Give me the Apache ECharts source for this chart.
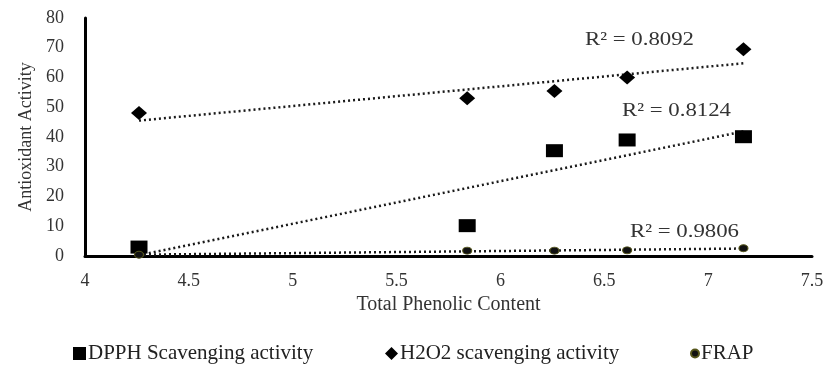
<!DOCTYPE html>
<html><head><meta charset="utf-8">
<script src="https://cdn.jsdelivr.net/npm/echarts@6/dist/echarts.min.js"></script>
<style>html,body{margin:0;padding:0;background:#fff}#c{width:827px;height:365px}</style>
</head><body><div id="c"></div>
<script>
var phenolic = [4.26, 5.84, 6.26, 6.61, 7.17];
var dpph = [3, 10.2, 35.4, 39, 40.1];
var h2o2 = [48.1, 53, 55.5, 60, 69.5];
var frap = [0.4, 1.8, 1.8, 1.9, 2.6];
var r2Labels = ['R² = 0.8092', 'R² = 0.8124', 'R² = 0.9806'];
var seriesNames = ['DPPH Scavenging activity', 'H2O2 scavenging activity', 'FRAP'];

function fit(xs, ys) {
  var n = xs.length, mx = 0, my = 0;
  for (var i = 0; i < n; i++) { mx += xs[i]; my += ys[i]; }
  mx /= n; my /= n;
  var sxy = 0, sxx = 0;
  for (var i = 0; i < n; i++) { sxy += (xs[i]-mx)*(ys[i]-my); sxx += (xs[i]-mx)*(xs[i]-mx); }
  var b = sxy / sxx, a = my - b*mx;
  var x0 = xs[0], x1 = xs[n-1];
  return [[x0, a + b*x0], [x1, a + b*x1]];
}
function pairs(ys) { return phenolic.map(function(x, i){ return [x, ys[i]]; }); }

var font = 'Liberation Serif, Times New Roman, serif';
var txt = '#333';
var chart = echarts.init(document.getElementById('c'));
function trend(ys, name) {
  return { type: 'line', name: name + ' trend', data: fit(phenolic, ys), symbol: 'none', silent: true,
    lineStyle: { color: '#1a1a1a', width: 2.5, type: [2, 3] }, z: 1 };
}
function legendItem(name, icon, left, size) {
  return { data: [{ name: name, icon: icon }], left: left, top: 343, padding: 0,
    itemWidth: size, itemHeight: size, selectedMode: false,
    textStyle: { fontFamily: font, fontSize: 21, color: '#222', padding: [0, 0, 0, -3] } };
}
function r2Text(s, x, y) {
  return { type: 'text', x: x, y: y, scaleX: 1.2, z: 10,
    style: { text: s, font: '19px ' + font, fill: txt, verticalAlign: 'middle', align: 'left' } };
}
chart.setOption({
  animation: false,
  textStyle: { fontFamily: font },
  grid: { left: 85, right: 15, top: 18, bottom: 109 },
  xAxis: {
    type: 'value', min: 4, max: 7.5, interval: 0.5,
    name: 'Total Phenolic Content', nameLocation: 'middle', nameGap: 35,
    nameTextStyle: { fontFamily: font, fontSize: 20, color: txt },
    axisLine: { show: true, lineStyle: { color: '#000', width: 3 } },
    axisTick: { show: false }, splitLine: { show: false },
    axisLabel: { fontFamily: font, fontSize: 18, color: txt, margin: 16 }
  },
  yAxis: {
    type: 'value', min: 0, max: 80, interval: 10,
    name: 'Antioxidant Activity', nameLocation: 'middle', nameGap: 50,
    nameTextStyle: { fontFamily: font, fontSize: 18, color: txt },
    axisLine: { show: true, lineStyle: { color: '#000', width: 3 } },
    axisTick: { show: false }, splitLine: { show: false },
    axisLabel: { fontFamily: font, fontSize: 18, color: txt, margin: 21 }
  },
  legend: [
    legendItem(seriesNames[0], 'rect', 73, 13),
    legendItem(seriesNames[1], 'diamond', 385, 13),
    legendItem(seriesNames[2], 'circle', 690, 8)
  ],
  graphic: [
    r2Text(r2Labels[0], 585, 40),
    r2Text(r2Labels[1], 622, 111),
    r2Text(r2Labels[2], 630, 232)
  ],
  series: [
    trend(h2o2, seriesNames[1]), trend(dpph, seriesNames[0]), trend(frap, seriesNames[2]),
    { type: 'scatter', name: seriesNames[0], data: pairs(dpph), symbol: 'rect', symbolSize: [17, 13],
      itemStyle: { color: '#000', opacity: 1 }, z: 3 },
    { type: 'scatter', name: seriesNames[1], data: pairs(h2o2), symbol: 'diamond', symbolSize: [16, 14],
      itemStyle: { color: '#000', opacity: 1 }, z: 3 },
    { type: 'scatter', name: seriesNames[2], data: pairs(frap), symbol: 'circle', symbolSize: [9, 7],
      itemStyle: { color: '#111', opacity: 1, borderColor: '#55551a', borderWidth: 1 }, z: 4 }
  ]
});
</script></body></html>
